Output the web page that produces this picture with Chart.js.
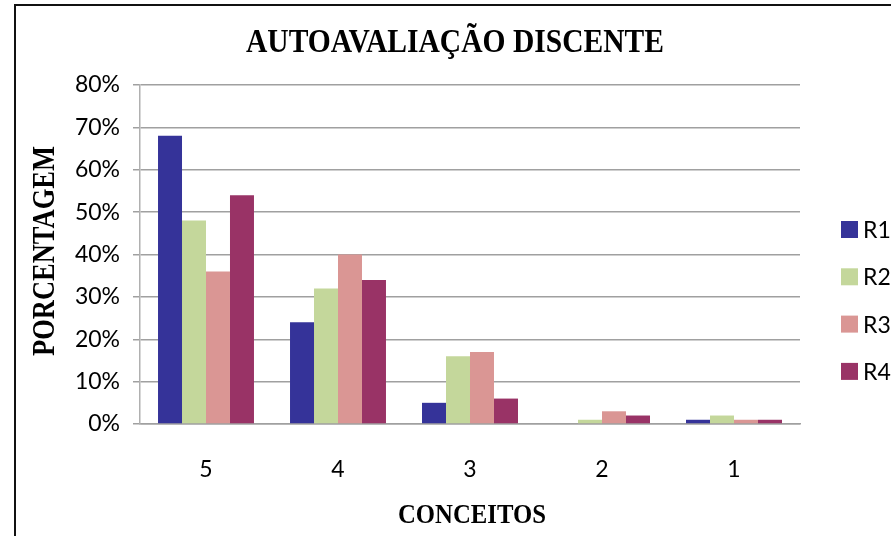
<!DOCTYPE html>
<html>
<head>
<meta charset="utf-8">
<script src="https://cdn.jsdelivr.net/npm/chart.js@4.4.0/dist/chart.umd.min.js"></script>
<style>
  html, body { margin: 0; padding: 0; background: #fff; }
  #wrap { width: 891px; height: 536px; }
</style>
</head>
<body>
<div id="wrap"><canvas id="chart1" width="891" height="536"></canvas></div>
<script>
// chart data
let conceitos = ['5', '4', '3', '2', '1'];
let seriesNames = ['R1', 'R2', 'R3', 'R4'];
let r1Values = [68, 24, 5, 0, 1];
let r2Values = [48, 32, 16, 1, 2];
let r3Values = [36, 40, 17, 3, 1];
let r4Values = [54, 34, 6, 2, 1];
let seriesColors = ['#353399', '#c4d79b', '#da9694', '#993366'];
let yTicks = [0, 10, 20, 30, 40, 50, 60, 70, 80];

let chartTitle = 'AUTOAVALIAÇÃO DISCENTE';
let xTitle = 'CONCEITOS';
let yTitle = 'PORCENTAGEM';

const gridColor = '#a0a0a0';
const tickFont = { family: 'Lato', size: 23 };

// draws text squeezed to a target width (the original uses a narrow serif)
function drawFitText(ctx, text, x, y, size, targetWidth, angle){
  ctx.save();
  ctx.font = 'bold ' + size + 'px "Liberation Serif"';
  ctx.fillStyle = '#000';
  ctx.textAlign = 'center';
  ctx.textBaseline = 'middle';
  var w = ctx.measureText(text).width;
  var sx = Math.min(1, targetWidth / w);
  ctx.translate(x, y);
  if (angle) ctx.rotate(angle);
  ctx.scale(sx, 1);
  ctx.fillText(text, 0, 0);
  ctx.restore();
}

const decorPlugin = {
  id: 'decor',
  beforeDraw(chart){
    var ctx = chart.ctx;
    ctx.save();
    ctx.fillStyle = '#fff';
    ctx.fillRect(0, 0, chart.width, chart.height);
    // outer frame (top and left edges visible)
    ctx.strokeStyle = '#111';
    ctx.lineWidth = 2;
    ctx.beginPath();
    ctx.moveTo(15, chart.height);
    ctx.lineTo(15, 5);
    ctx.lineTo(chart.width, 5);
    ctx.stroke();
    ctx.restore();
  },
  afterDraw(chart){
    var ctx = chart.ctx;
    drawFitText(ctx, chartTitle, 455, 43, 34, 418, 0);
    drawFitText(ctx, xTitle, 472, 516, 27, 148, 0);
    drawFitText(ctx, yTitle, 46, 251, 31, 210, -Math.PI / 2);

    // legend
    ctx.save();
    ctx.font = '23px Lato';
    ctx.textBaseline = 'middle';
    ctx.textAlign = 'left';
    chart.data.datasets.forEach(function(ds, i){
      var cy = 229.5 + i * 47.3;
      ctx.fillStyle = ds.backgroundColor;
      ctx.fillRect(841, cy - 8.5, 17, 17);
      ctx.fillStyle = '#000';
      ctx.fillText(ds.label, 863, cy + 1);
    });
    ctx.restore();
  }
};

var datasets = [r1Values, r2Values, r3Values, r4Values].map(function(vals, i){
  return {
    label: seriesNames[i],
    data: vals,
    backgroundColor: seriesColors[i],
    borderWidth: 0,
    categoryPercentage: 0.727,
    barPercentage: 1.0
  };
});

var ctx = document.getElementById('chart1').getContext('2d');
var myChart = new Chart(ctx, {
  type: 'bar',
  data: {
    labels: conceitos,
    datasets: datasets
  },
  options: {
    responsive: false,
    animation: false,
    layout: { padding: { top: 85, right: 91, bottom: 0, left: 0 } },
    plugins: {
      legend: { display: false },
      title: { display: false },
      tooltip: { enabled: false }
    },
    scales: {
      x: {
        grid: { display: false, drawTicks: false },
        border: { display: true, color: gridColor, width: 1.5 },
        ticks: { color: '#000', font: tickFont, padding: 32 },
        afterFit: function(scale){ scale.height = 536 - 424; }
      },
      y: {
        min: 0,
        max: 80,
        afterBuildTicks: function(scale){
          scale.ticks = yTicks.map(function(v){ return { value: v }; });
        },
        grid: { color: gridColor, lineWidth: 1.5, tickLength: 7, drawTicks: true },
        border: { display: true, color: '#b0b0b0', width: 1.5 },
        ticks: {
          color: '#000',
          font: tickFont,
          padding: 13,
          callback: function(v){ return v + '%'; }
        },
        afterFit: function(scale){ scale.width = 140; }
      }
    }
  },
  plugins: [decorPlugin]
});
</script>
</body>
</html>
